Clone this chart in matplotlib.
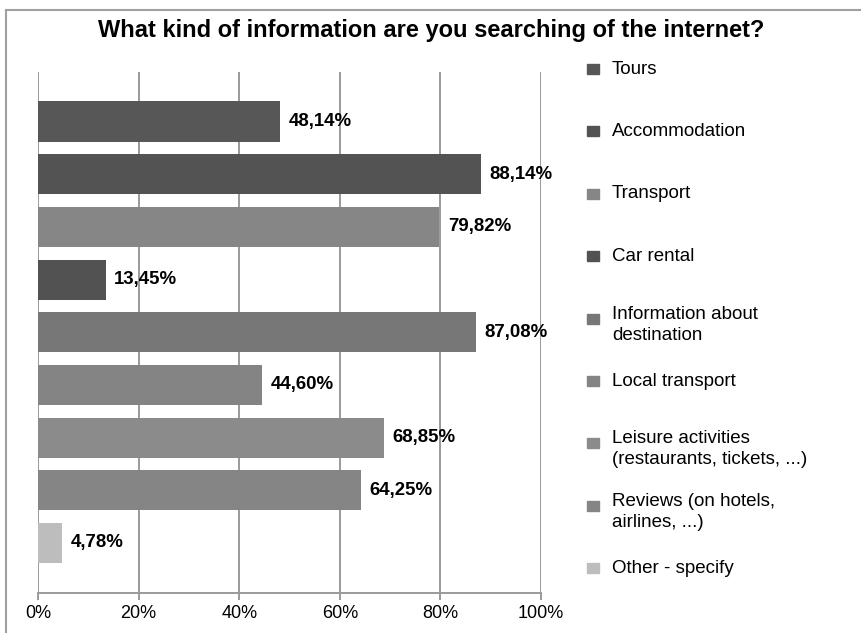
import matplotlib.pyplot as plt
from matplotlib.lines import Line2D
from matplotlib.patches import Rectangle

plt.rcParams['font.family'] = ['Liberation Sans', 'DejaVu Sans']

# respostas da pesquisa (% dos entrevistados)
categorias = ["Tours", "Accommodation", "Transport", "Car rental",
              "Information about\ndestination", "Local transport",
              "Leisure activities\n(restaurants, tickets, ...)",
              "Reviews (on hotels,\nairlines, ...)", "Other - specify"]
valores = [48.14, 88.14, 79.82, 13.45, 87.08, 44.60, 68.85, 64.25, 4.78]
rotulos = ["48,14%", "88,14%", "79,82%", "13,45%", "87,08%",
           "44,60%", "68,85%", "64,25%", "4,78%"]
cores = ["#575757", "#535353", "#868686", "#525252", "#777777",
         "#848484", "#8b8b8b", "#858585", "#bdbdbd"]
ticks = [0, 20, 40, 60, 80, 100]
tick_labels = ["0%", "20%", "40%", "60%", "80%", "100%"]

fig = plt.figure(figsize=(8.62, 6.33), dpi=100)
ax = fig.add_axes([38 / 862, 0.0632, 503 / 862, 0.8231])

pos = range(len(valores))
ax.barh(pos, valores, height=0.76, color=cores, zorder=3)
for i, (v, r) in enumerate(zip(valores, rotulos)):
    ax.annotate(r, (v, i), xytext=(6, 0), textcoords='offset points',
                va='center', ha='left', fontsize=13.4, fontweight='bold', zorder=4)

ax.set_xlim(0, 100)
ax.set_ylim(8.95, -0.94)
ax.set_xticks(ticks)
ax.set_xticklabels(tick_labels, fontsize=13)
ax.set_yticks([])
ax.grid(axis='x', color='#9a9a9a', linewidth=1.4, zorder=0)
for s in ['top', 'right', 'left']:
    ax.spines[s].set_visible(False)
ax.spines['bottom'].set_color('#9a9a9a')
ax.spines['bottom'].set_linewidth(1.4)
ax.tick_params(axis='x', length=5, width=1.4, color='#9a9a9a', pad=4)

fig.text(0.5, 0.952, "What kind of information are you searching of the internet?",
         ha='center', va='center', fontsize=17, fontweight='bold')

# legenda desenhada a mao
y0, passo = 1 - 69 / 633, 62.4 / 633
for i, (c, lab) in enumerate(zip(cores, categorias)):
    y = y0 - i * passo
    fig.patches.append(Rectangle((587 / 862, y - 5 / 633), 12 / 862, 10 / 633,
                                 transform=fig.transFigure, color=c))
    dy = -6 / 633 if '\n' in lab else 0
    fig.text(612 / 862, y + dy, lab, ha='left', va='center', fontsize=13.5,
             linespacing=1.3)

# moldura da planilha
fig.add_artist(Line2D([6 / 862, 6 / 862], [0, 1 - 10 / 633], color='#a0a0a0', lw=1.5))
fig.add_artist(Line2D([6 / 862, 1], [1 - 10 / 633, 1 - 10 / 633], color='#a0a0a0', lw=1.5))

fig.savefig("out.png", dpi=100)
